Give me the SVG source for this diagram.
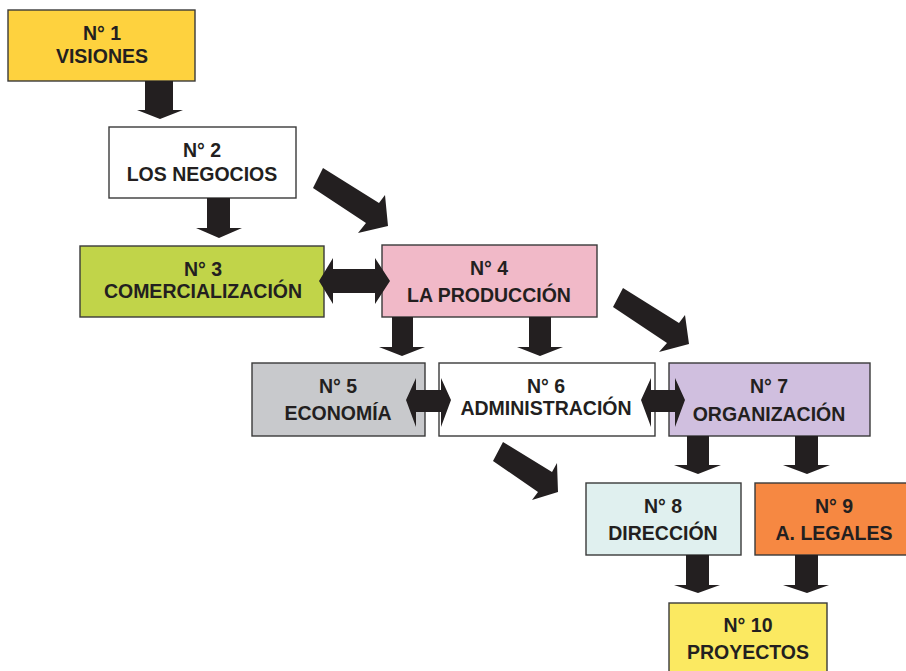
<svg xmlns="http://www.w3.org/2000/svg" width="906" height="671" viewBox="0 0 906 671">
<style>
.box{stroke:#3a3a3a;stroke-width:1.4}
.t{font-family:"Liberation Sans",Arial,Helvetica,sans-serif;font-weight:bold;font-size:19.5px;fill:#231F20;text-anchor:middle}
.ar{fill:#231F20}
</style>
<rect width="906" height="671" fill="#ffffff"/>
<g id="n1"><rect class="box" x="8" y="10" width="187" height="71" fill="#FED23E"/><text class="t" x="102" y="40">N° 1</text><text class="t" x="102" y="63">VISIONES</text></g>
<g id="n2"><rect class="box" x="109" y="127" width="187" height="71" fill="#FFFFFF"/><text class="t" x="202" y="157">N° 2</text><text class="t" x="202" y="181">LOS NEGOCIOS</text></g>
<g id="n3"><rect class="box" x="80" y="246" width="244" height="71" fill="#C1D449"/><text class="t" x="203" y="276">N° 3</text><text class="t" x="203" y="298">COMERCIALIZACIÓN</text></g>
<g id="n4"><rect class="box" x="382" y="245" width="215" height="72" fill="#F1B9C8"/><text class="t" x="489" y="275">N° 4</text><text class="t" x="489" y="302">LA PRODUCCIÓN</text></g>
<g id="n5"><rect class="box" x="252" y="363" width="173" height="73" fill="#C8C9CC"/><text class="t" x="338" y="393">N° 5</text><text class="t" x="338" y="420">ECONOMÍA</text></g>
<g id="n6"><rect class="box" x="439" y="363" width="216" height="73" fill="#FFFFFF"/><text class="t" x="546" y="393">N° 6</text><text class="t" x="546" y="415">ADMINISTRACIÓN</text></g>
<g id="n7"><rect class="box" x="669" y="363" width="201" height="73" fill="#D0BFDF"/><text class="t" x="769" y="393">N° 7</text><text class="t" x="769" y="421">ORGANIZACIÓN</text></g>
<g id="n8"><rect class="box" x="586" y="483" width="155" height="72" fill="#E0F0EF"/><text class="t" x="663" y="513">N° 8</text><text class="t" x="663" y="540">DIRECCIÓN</text></g>
<g id="n9"><rect class="box" x="755" y="483" width="158" height="72" fill="#F68842"/><text class="t" x="834" y="513">N° 9</text><text class="t" x="834" y="540">A. LEGALES</text></g>
<g id="n10"><rect class="box" x="669" y="603" width="158" height="80" fill="#FBE961"/><text class="t" x="748" y="632">N° 10</text><text class="t" x="748" y="659">PROYECTOS</text></g>
<g id="connectors" class="ar">
<polygon points="145,81 173,81 173,110 183,110 160,119 137,110 145,110"/>
<polygon points="207,198 230,198 230,228 242,228 219,238 196,228 207,228"/>
<polygon points="323,168 379,203 385,195 388,226 358,233 366,223 313,188"/>
<polygon points="319,281 333,258 333,269 375,269 375,258 390,281 375,304 375,293 333,293 333,304"/>
<polygon points="392,317 413,317 413,347 425,347 402,356 379,347 392,347"/>
<polygon points="529,317 551,317 551,347 563,347 540,356 517,347 529,347"/>
<polygon points="623,288 679,323 685,315 689,344 659,352 667,343 613,307"/>
<polygon points="406,400 416,378 416,390 441,390 441,378 451,400 441,427 441,412 416,412 416,427"/>
<polygon points="641,400 651,378 651,390 675,390 675,378 685,400 675,427 675,412 651,412 651,427"/>
<polygon points="503,442 552,472 557,463 558,492 532,500 538,492 493,461"/>
<polygon points="687,436 709,436 709,465 721,465 698,474 674,465 687,465"/>
<polygon points="795,436 818,436 818,465 830,465 807,474 783,465 795,465"/>
<polygon points="686,555 709,555 709,585 720,585 698,593 674,585 686,585"/>
<polygon points="795,555 818,555 818,585 829,585 807,593 783,585 795,585"/>
</g>
</svg>
